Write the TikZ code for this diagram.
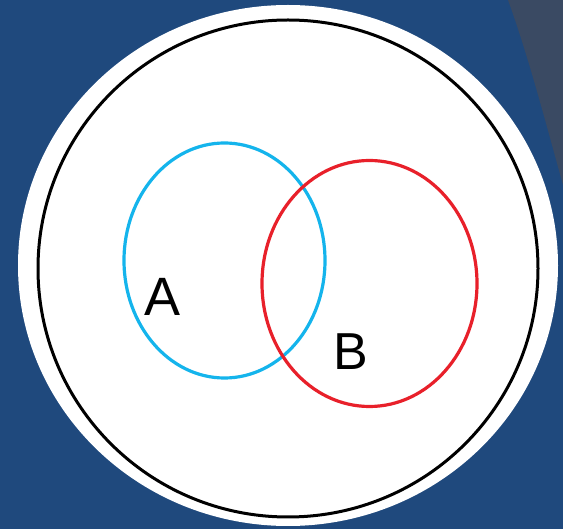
\documentclass[tikz,border=0pt]{standalone}
\usepackage{fontspec}
\setmainfont{Liberation Sans}
\usepackage{xcolor}
\definecolor{vennBack}{HTML}{1F497D}
\definecolor{vennBand}{HTML}{3A4A63}
\definecolor{vennA}{HTML}{14B4EC}
\definecolor{vennB}{HTML}{E8202A}

\begin{document}
\begin{tikzpicture}[x=1pt, y=-1pt]
  \filldraw[fill=vennBack, draw=none] (0,0) rectangle (563,529);
  \useasboundingbox (0,0) rectangle (563,529);
  \fill[vennBand] (508,0) .. controls (528,55) and (545,120) .. (563,185) -- (563,0) -- cycle;
  \fill[white] (288,265.5) ellipse [x radius=270, y radius=260.5];
  \draw[black, line width=3pt] (288,268.5) ellipse [x radius=250, y radius=248.5];
  \draw[vennA, line width=3.2pt] (224.5,260.5) ellipse [x radius=100.5, y radius=117.5];
  \draw[vennB, line width=3.2pt] (369.5,283.5) ellipse [x radius=107.5, y radius=123];
  \node[font=\fontsize{54}{60}\selectfont, inner sep=0] (A) at (162.5,297) {A};
  \node[font=\fontsize{52}{58}\selectfont, inner sep=0] (B) at (351,352) {B};
\end{tikzpicture}
\end{document}
